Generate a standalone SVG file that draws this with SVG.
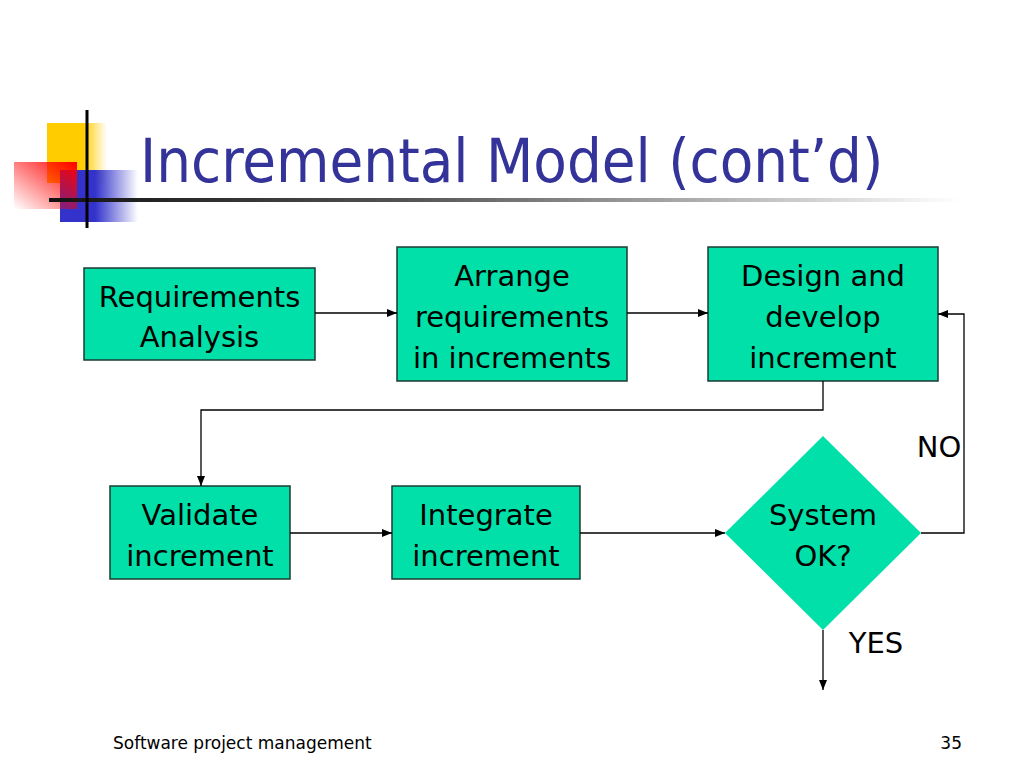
<svg xmlns="http://www.w3.org/2000/svg" width="1024" height="768" viewBox="0 0 1024 768">
<defs>
<linearGradient id="gy" x1="0" y1="0" x2="1" y2="0"><stop offset="0" stop-color="#ffcc00"/><stop offset="0.6" stop-color="#ffcc00"/><stop offset="1" stop-color="#ffcc00" stop-opacity="0"/></linearGradient>
<linearGradient id="gr" x1="1" y1="0" x2="0" y2="1"><stop offset="0" stop-color="#ff0000"/><stop offset="1" stop-color="#ff0000" stop-opacity="0"/></linearGradient>
<linearGradient id="gb" x1="0" y1="0" x2="1" y2="0"><stop offset="0" stop-color="#3333cc"/><stop offset="0.45" stop-color="#3333cc"/><stop offset="1" stop-color="#3333cc" stop-opacity="0"/></linearGradient>
<linearGradient id="gl" x1="0" y1="0" x2="1" y2="0"><stop offset="0" stop-color="#111"/><stop offset="0.4" stop-color="#555"/><stop offset="1" stop-color="#fff"/></linearGradient>
<marker id="ah" viewBox="0 0 10 10" refX="10" refY="5" markerWidth="10" markerHeight="10" markerUnits="userSpaceOnUse" orient="auto"><path d="M0,1 L10,5 L0,9 z" fill="#000"/></marker>
</defs>
<style>
.box{fill:#00e0a8;stroke:#1b3b32;stroke-width:1.5}
.t{font-family:Tahoma,"DejaVu Sans",sans-serif;font-size:29px;fill:#000;text-anchor:middle}
.c{fill:none;stroke:#000;stroke-width:1.3;marker-end:url(#ah)}
.f{font-family:Tahoma,"DejaVu Sans",sans-serif;font-size:17px;fill:#000}
</style>
<rect width="1024" height="768" fill="#fff"/>
<g id="logo">
<rect x="47" y="123" width="60" height="60" fill="url(#gy)"/>
<rect x="60" y="170" width="78" height="52" fill="url(#gb)"/>
<rect x="14" y="162" width="63" height="47" fill="url(#gr)"/>
<rect x="49" y="198" width="911" height="4" fill="url(#gl)"/>
<rect x="85.5" y="110" width="3" height="118" fill="#000"/>
</g>
<text x="140" y="182" font-family="Tahoma,'DejaVu Sans Condensed','DejaVu Sans',sans-serif" font-size="61" fill="#333399">Incremental Model (cont’d)</text>
<g id="n1"><rect class="box" x="84" y="268" width="231" height="92"/><text class="t" x="199.5" y="307">Requirements</text><text class="t" x="199.5" y="347">Analysis</text></g>
<g id="n2"><rect class="box" x="397" y="247" width="230" height="134"/><text class="t" x="512" y="286">Arrange</text><text class="t" x="512" y="327">requirements</text><text class="t" x="512" y="368">in increments</text></g>
<g id="n3"><rect class="box" x="708" y="247" width="230" height="134"/><text class="t" x="823" y="286">Design and</text><text class="t" x="823" y="327">develop</text><text class="t" x="823" y="368">increment</text></g>
<g id="n4"><rect class="box" x="110" y="486" width="180" height="93"/><text class="t" x="200" y="525">Validate</text><text class="t" x="200" y="566">increment</text></g>
<g id="n5"><rect class="box" x="392" y="486" width="188" height="93"/><text class="t" x="486" y="525">Integrate</text><text class="t" x="486" y="566">increment</text></g>
<g id="n6"><polygon points="823,436 921,533 823,630 725,533" fill="#00e0a8"/><text class="t" x="823" y="525">System</text><text class="t" x="823" y="566">OK?</text></g>
<g id="connectors">
<path class="c" d="M315,313 H397"/>
<path class="c" d="M627,313 H708"/>
<path class="c" d="M823,381 V410 H201 V486"/>
<path class="c" d="M290,533 H392"/>
<path class="c" d="M580,533 H725"/>
<path class="c" d="M921,533 H964 V314 H938"/>
<path class="c" d="M823,630 V690"/>
</g>
<text class="t" x="939" y="457">NO</text>
<text class="t" x="876" y="653">YES</text>
<text class="f" x="113" y="749">Software project management</text>
<text class="f" x="962" y="749" text-anchor="end">35</text>
</svg>
